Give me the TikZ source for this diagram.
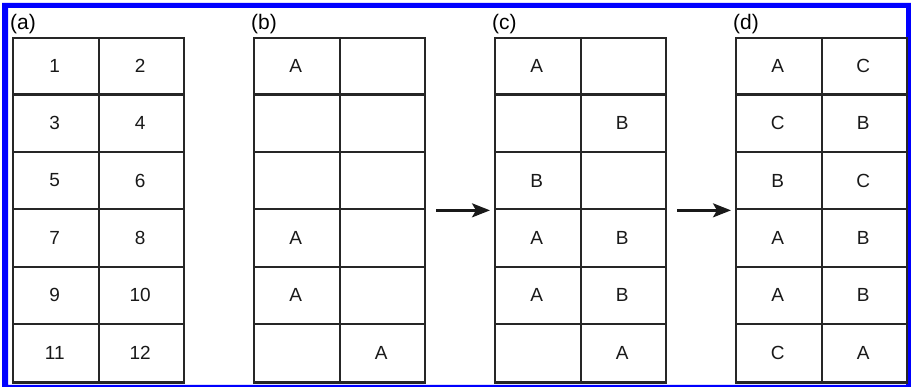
\documentclass[tikz,border=0pt]{standalone}
\usepackage{fontspec}
\setmainfont{Liberation Sans}
\usetikzlibrary{arrows.meta}
\begin{document}
\begin{tikzpicture}[x=1pt,y=-1pt,
  gridbox/.style={draw=black!85, line width=2.2pt, minimum width=171pt,
    minimum height=344.5pt, anchor=north west, inner sep=0pt},
  gridline/.style={draw=black!85, line width=2.2pt},
  cell/.style={font=\fontsize{19}{19}\selectfont, text=black!90, inner sep=0pt},
  panellabel/.style={font=\fontsize{21}{21}\selectfont, anchor=base west, inner sep=0pt},
  flow/.style={draw=black!90, line width=2.4pt, -{Stealth[length=18pt,width=14pt,inset=4pt]}}]
\useasboundingbox (0,0) rectangle (911,387);
% blue frame
\fill[blue, even odd rule] (2,3) rectangle (911,387) (8,8) rectangle (906,385);

% panels: name / left edge
\foreach \g/\x in {a/12, b/253, c/494, d/735}{
  \node[gridbox] (p\g) at (\x,37) {};
  \draw[gridline] (p\g.north) -- (p\g.south);
  \foreach \k in {1,...,5}
    \draw[gridline] (\x,37+\k*57.42) -- (\x+171,37+\k*57.42);
  \node[panellabel] (lab\g) at (\x-2,30) {(\g)};
}

% cell contents: panel / left edge / row / left text / right text
\foreach \g/\x/\r/\L/\R in {
  a/12/1/1/2, a/12/2/3/4, a/12/3/5/6, a/12/4/7/8, a/12/5/9/10, a/12/6/11/12,
  b/253/1/A/, b/253/4/A/, b/253/5/A/, b/253/6//A,
  c/494/1/A/, c/494/2//B, c/494/3/B/, c/494/4/A/B, c/494/5/A/B, c/494/6//A,
  d/735/1/A/C, d/735/2/C/B, d/735/3/B/C, d/735/4/A/B, d/735/5/A/B, d/735/6/C/A}{
  \node[cell] (\g-\r-1) at (\x+42.75, 37+57.42*\r-28.71) {\L};
  \node[cell] (\g-\r-2) at (\x+128.25, 37+57.42*\r-28.71) {\R};
}

% transitions between panels
\draw[flow, shorten <=10pt, shorten >=4pt] (pb.east) -- (pc.west);
\draw[flow, shorten <=10pt, shorten >=4pt] (pc.east) -- (pd.west);
\end{tikzpicture}
\end{document}
